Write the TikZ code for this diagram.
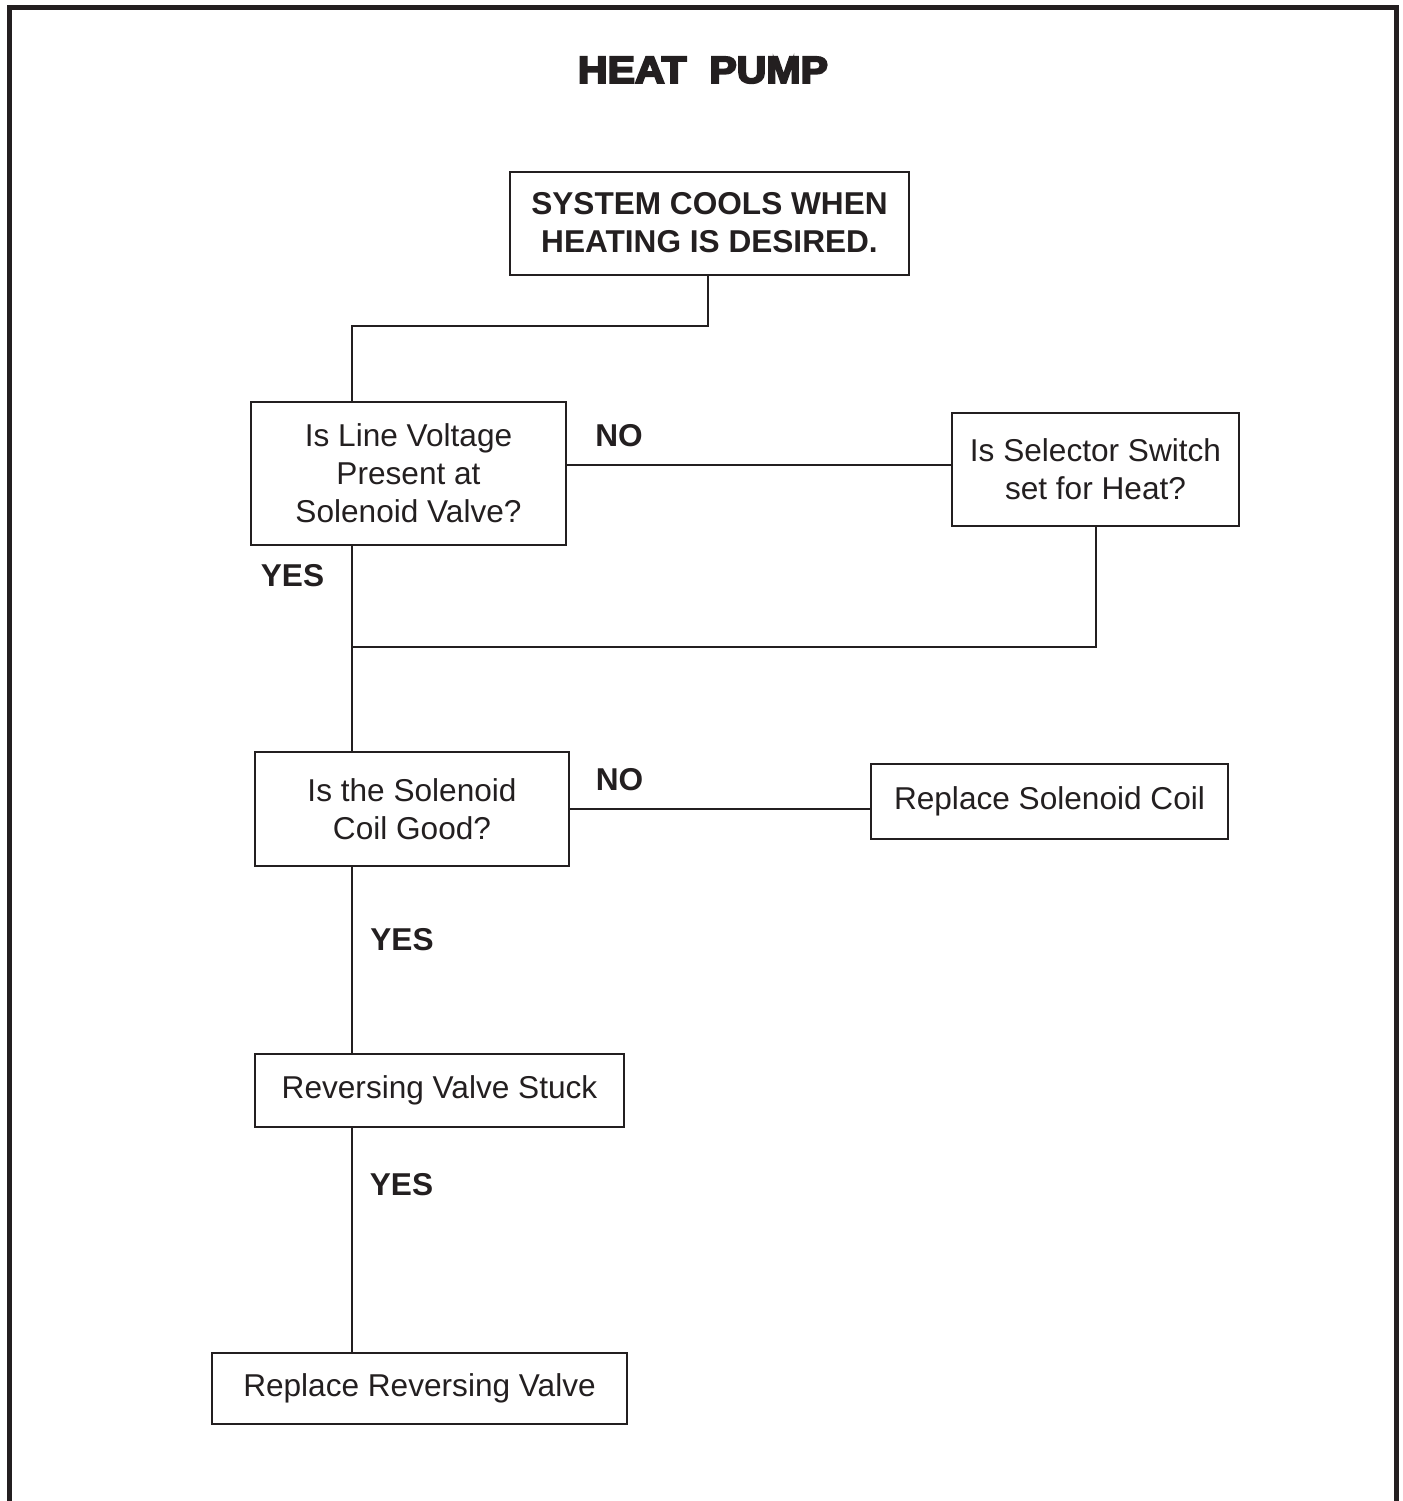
\documentclass[tikz,border=0pt]{standalone}
\usepackage{fontspec}
\setmainfont{Liberation Sans}
\usepackage{graphicx}
\definecolor{ink}{HTML}{231F20}
\begin{document}
\begin{tikzpicture}[x=0.5pt,y=-0.5pt,
  box/.style={draw=ink, text=ink, line width=1pt, inner sep=0pt, align=center,
    font=\fontsize{15.8}{19}\selectfont},
  lbl/.style={text=ink, inner sep=0pt, font=\fontsize{15.8}{19}\selectfont\bfseries},
  wire/.style={draw=ink, line width=1pt}]
\useasboundingbox (0,0) rectangle (1403,1501);
% frame
\draw[ink, line width=2.5pt] (9.5,1510) -- (9.5,7.5) -- (1396,7.5) -- (1396,1510);
% title
\node[text=ink, inner sep=0pt] (title) at (703,70) {\resizebox{125pt}{13pt}{\addfontfeature{FakeBold=5}\bfseries HEAT\ \ PUMP}};
% boxes
\node[box, minimum width=199.5pt, minimum height=51.5pt, font=\fontsize{15.8}{19}\selectfont\bfseries] (top) at (709.5,223) {SYSTEM COOLS WHEN\\HEATING IS DESIRED.};
\node[box, minimum width=157.5pt, minimum height=71.5pt] (b1) at (408.5,473.5) {Is Line Voltage\\Present at\\Solenoid Valve?};
\node[box, minimum width=143.5pt, minimum height=56.5pt] (b2) at (1095.5,469.5) {Is Selector Switch\\set for Heat?};
\node[box, minimum width=157pt, minimum height=57pt] (b3) at (412,809) {Is the Solenoid\\Coil Good?};
\node[box, minimum width=178.5pt, minimum height=37.5pt] (b4) at (1049.5,801.5) {Replace Solenoid Coil};
\node[box, minimum width=184.5pt, minimum height=36.5pt] (b5) at (439.5,1090.5) {Reversing Valve Stuck};
\node[box, minimum width=207.5pt, minimum height=35.5pt] (b6) at (419.5,1388.5) {Replace Reversing Valve};
% junction coordinates
\coordinate (ja) at (708,326);
\coordinate (jb) at (352,326);
\coordinate (jc) at (352,647);
\coordinate (jd) at (1096,647);
\coordinate (je) at (0,465);
% connectors
\draw[wire] (top.south -| ja) -- (ja) -- (jb) -- (b1.north -| jb);
\draw[wire] (b1.east |- je) -- (b2.west |- je);
\draw[wire] (b2.south -| jd) -- (jd) -- (jc);
\draw[wire] (b1.south -| jc) -- (jc) -- (b3.north -| jc);
\draw[wire] (b3.east) -- (b4.west |- b3.east);
\draw[wire] (b3.south -| jc) -- (b5.north -| jc);
\draw[wire] (b5.south -| jc) -- (b6.north -| jc);
% labels
\node[lbl] (no1) at (619,436) {NO};
\node[lbl] (yes1) at (292.5,576) {YES};
\node[lbl] (no2) at (619.5,779.5) {NO};
\node[lbl] (yes2) at (402,940) {YES};
\node[lbl] (yes3) at (401.5,1184.5) {YES};
\end{tikzpicture}
\end{document}
